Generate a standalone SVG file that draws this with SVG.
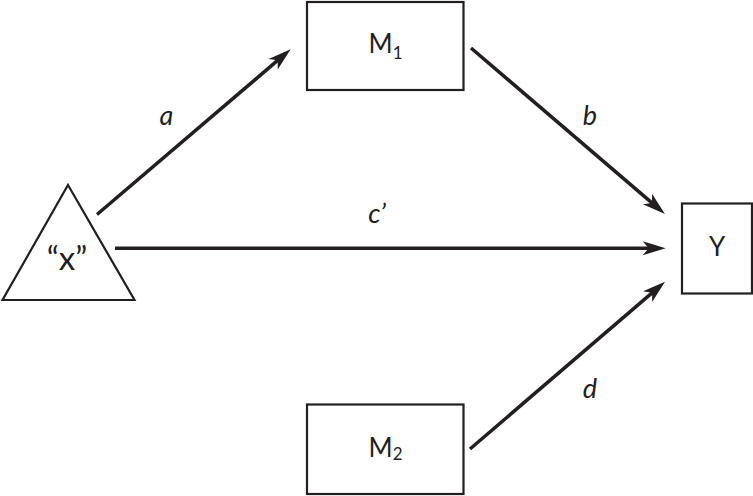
<svg xmlns="http://www.w3.org/2000/svg" width="753" height="496" viewBox="0 0 753 496">
<style>
.node{fill:#fff;stroke:#231f20;stroke-width:2.2}
.lbl{font-family:Lato,"Open Sans",sans-serif;font-size:26px;fill:#231f20;text-anchor:middle}
.sub{font-size:17px}
.it{font-family:Lato,"Open Sans",sans-serif;font-style:italic;font-size:27px;fill:#231f20;text-anchor:middle}
.conn{stroke:#231f20;stroke-width:3.5;fill:none}
</style>
<defs>
<marker id="ah" markerUnits="userSpaceOnUse" markerWidth="30" markerHeight="20" viewBox="0 0 30 20" refX="10" refY="10" orient="auto" overflow="visible">
<path d="M26,10 L3,3 L9,10 L3,17 Z" fill="#231f20"/>
</marker>
</defs>
<rect width="753" height="496" fill="#fff"/>
<g id="connectors">
<line class="conn" x1="97" y1="214.5" x2="278.5" y2="59.7" marker-end="url(#ah)"/>
<line class="conn" x1="471" y1="48" x2="652.8" y2="203.6" marker-end="url(#ah)"/>
<line class="conn" x1="115" y1="248.3" x2="649.7" y2="248.3" marker-end="url(#ah)"/>
<line class="conn" x1="470" y1="449" x2="652.9" y2="292.1" marker-end="url(#ah)"/>
<text class="it" x="166.5" y="125">a</text>
<text class="it" x="590" y="125">b</text>
<text class="it" x="377" y="223">c’</text>
<text class="it" x="590" y="398">d</text>
</g>
<g id="node-X">
<polygon class="node" points="68,185 134.5,300 2.5,300"/>
<text class="lbl" x="67" y="270" style="font-size:33px">“x”</text>
</g>
<g id="node-M1">
<rect class="node" x="307" y="2" width="156.5" height="88"/>
<text class="lbl" x="385.5" y="53.3">M<tspan class="sub" dy="5.7">1</tspan></text>
</g>
<g id="node-Y">
<rect class="node" x="682" y="203.5" width="70" height="90"/>
<text class="lbl" x="717" y="256">Y</text>
</g>
<g id="node-M2">
<rect class="node" x="307" y="404.5" width="156.5" height="89.5"/>
<text class="lbl" x="385.5" y="456.7">M<tspan class="sub" dy="3.5">2</tspan></text>
</g>
</svg>
